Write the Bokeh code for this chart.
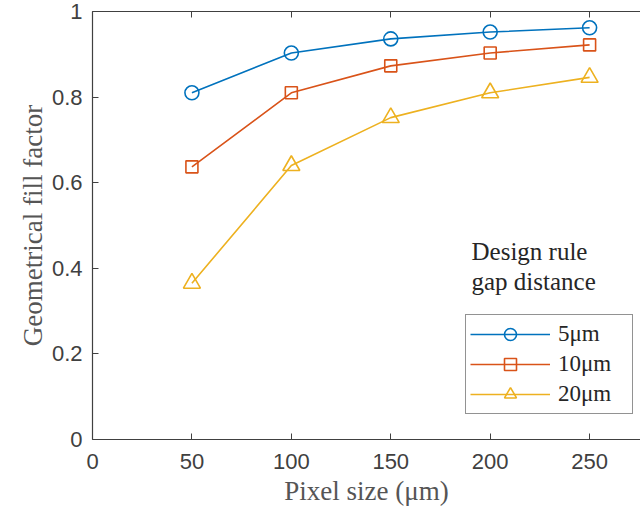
from bokeh.plotting import figure
from bokeh.models import Range1d, LinearAxis, FixedTicker, Legend, LegendItem, Label
from bokeh.embed import file_html
from bokeh.resources import INLINE

pixel_size = [50, 100, 150, 200, 250]
ff_5um = [0.810, 0.903, 0.936, 0.952, 0.962]
ff_10um = [0.637, 0.810, 0.873, 0.903, 0.922]
ff_20um = [0.365, 0.640, 0.752, 0.810, 0.846]
series_labels = ["5μm", "10μm", "20μm"]
x_ticks = [0, 50, 100, 150, 200, 250]
y_ticks = [0, 0.2, 0.4, 0.6, 0.8, 1.0]

colors = ["#0072BD", "#D95319", "#EDB120"]
serif = "Liberation Serif"
sans = "Liberation Sans"
axis_col = "#404040"

p = figure(width=640, height=514, output_backend="svg", toolbar_location=None,
           x_range=Range1d(0, 275.6), y_range=Range1d(0, 1),
           min_border_left=92, min_border_right=0, min_border_top=11, min_border_bottom=75,
           x_axis_location=None, y_axis_location=None)
p.outline_line_color = None
p.xgrid.visible = False
p.ygrid.visible = False
p.background_fill_color = "white"
p.border_fill_color = "white"

def style_axis(ax):
    ax.major_tick_in = 6
    ax.major_tick_out = 0
    ax.minor_tick_in = 0
    ax.minor_tick_out = 0
    ax.axis_line_color = axis_col
    ax.major_tick_line_color = axis_col
    ax.axis_line_width = 1.2
    ax.major_label_text_font = sans
    ax.major_label_text_font_size = "22px"
    ax.major_label_text_color = axis_col
    ax.axis_label_text_font = serif
    ax.axis_label_text_font_size = "27px"
    ax.axis_label_text_font_style = "normal"
    ax.axis_label_text_color = "#555555"

xax = LinearAxis(ticker=FixedTicker(ticks=x_ticks), axis_label="Pixel size (μm)")
style_axis(xax)
xax.major_label_standoff = 14
xax.axis_label_standoff = 4
p.add_layout(xax, "below")

yax = LinearAxis(ticker=FixedTicker(ticks=y_ticks), axis_label="Geometrical fill factor")
style_axis(yax)
yax.major_label_standoff = 10
yax.axis_label_standoff = 1
yax.major_label_overrides = {0: "0", 1: "1"}
p.add_layout(yax, "left")

tax = LinearAxis(ticker=FixedTicker(ticks=x_ticks))
style_axis(tax)
tax.major_label_text_font_size = "0px"
tax.major_label_text_alpha = 0
p.add_layout(tax, "above")

items = []
data = [ff_5um, ff_10um, ff_20um]
for i, (ys, lab, c) in enumerate(zip(data, series_labels, colors)):
    l = p.line(pixel_size, ys, line_color=c, line_width=1.6)
    if i == 0:
        m = p.scatter(pixel_size, ys, marker="circle", size=14, fill_color=None, line_color=c, line_width=1.6)
    elif i == 1:
        m = p.scatter(pixel_size, ys, marker="square", size=12, fill_color=None, line_color=c, line_width=1.6)
    else:
        m = p.scatter(pixel_size, ys, marker="triangle", size=17, fill_color=None, line_color=c, line_width=1.6)
    items.append(LegendItem(label=lab, renderers=[l, m]))

legend = Legend(items=items, location=(373, 25))
legend.border_line_color = "#262626"
legend.border_line_width = 1
legend.background_fill_color = "white"
legend.label_text_font = serif
legend.label_text_font_size = "23px"
legend.label_text_color = "#262626"
legend.glyph_width = 80
legend.glyph_height = 30
legend.label_height = 22
legend.label_width = 70
legend.spacing = 0
legend.padding = 4
legend.margin = 0
legend.label_standoff = 8
p.add_layout(legend, "center")

for txt, yy in [("Design rule", 188), ("gap distance", 158)]:
    p.add_layout(Label(x=379, y=yy, x_units="screen", y_units="screen", text=txt,
                       text_font=serif, text_font_size="25px", text_color="#262626",
                       text_baseline="middle"))

open("out.html", "w").write(file_html(p, INLINE))
